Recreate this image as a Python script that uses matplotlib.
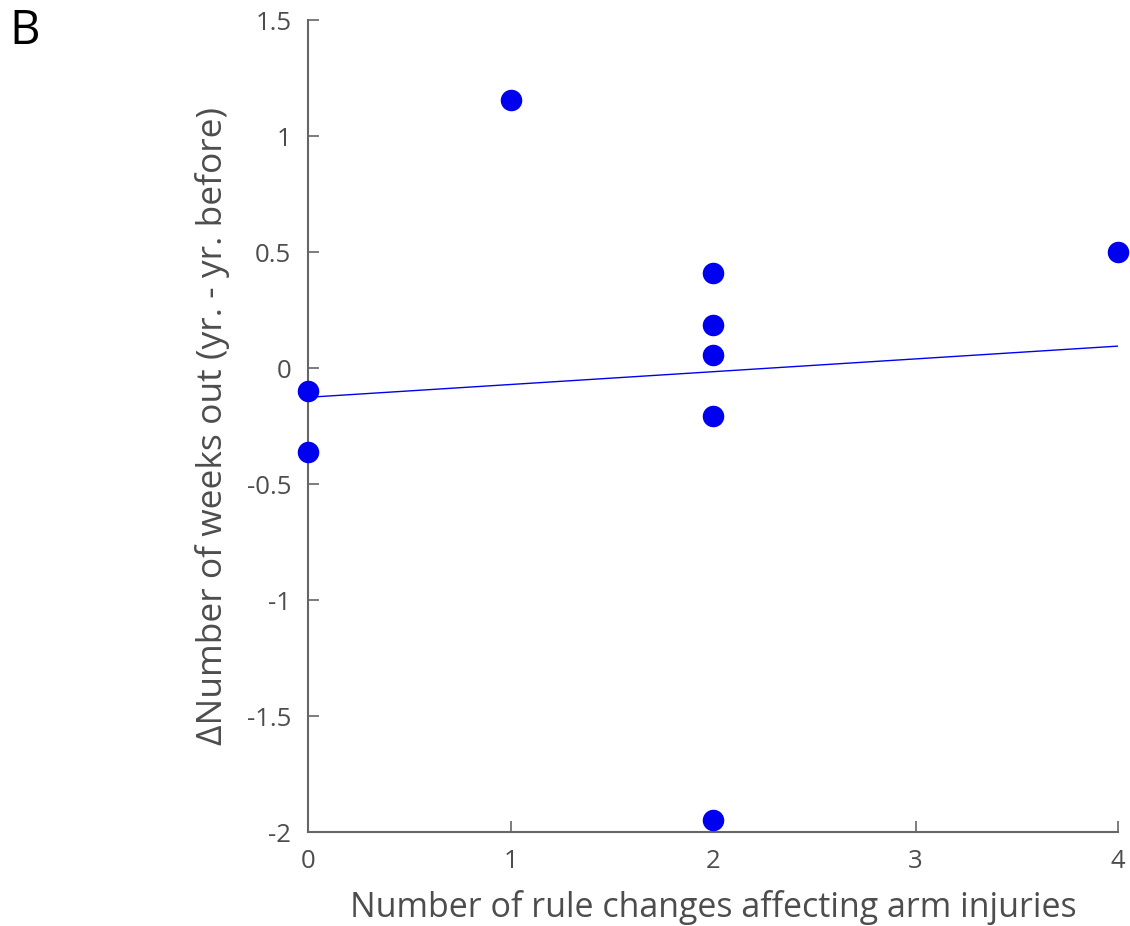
import numpy as np
import matplotlib.pyplot as plt

# data
rule_changes = [0, 0, 1, 2, 2, 2, 2, 2, 4]
delta_weeks = [-0.10, -0.36, 1.155, 0.41, 0.185, 0.056, -0.207, -1.948, 0.50]
x_ticks = [0, 1, 2, 3, 4]
y_ticks = [-2, -1.5, -1, -0.5, 0, 0.5, 1, 1.5]
y_ticklabels = ['-2', '-1.5', '-1', '-0.5', '0', '0.5', '1', '1.5']

plt.rcParams['font.family'] = ['Open Sans', 'DejaVu Sans']
grey = '#4d4d4d'

fig = plt.figure(figsize=(11.3, 9.26), dpi=100)
ax = fig.add_axes([0.2726, 0.1015, 0.7168, 0.8769])

ax.plot(rule_changes, delta_weeks, 'o', color='#0000f0', markersize=14.5,
        clip_on=False, zorder=5)

# least squares fit line
slope, intercept = np.polyfit(rule_changes, delta_weeks, 1)
xf = np.array([0, 4])
ax.plot(xf, slope * xf + intercept, '-', color='#0000f0', linewidth=1)

ax.set_xlim(0, 4)
ax.set_ylim(-2, 1.5)
ax.set_xticks(x_ticks)
ax.set_yticks(y_ticks)
ax.set_yticklabels(y_ticklabels)

for s in ['top', 'right']:
    ax.spines[s].set_visible(False)
for s in ['left', 'bottom']:
    ax.spines[s].set_color('#666666')
    ax.spines[s].set_linewidth(1.5)

ax.tick_params(direction='in', length=8, width=1.2, color='#666666',
               labelsize=18.5, labelcolor=grey, pad=12)

ax.set_xlabel('Number of rule changes affecting arm injuries', fontsize=24.5,
              color=grey, labelpad=12)
ax.set_ylabel('\u0394Number of weeks out (yr. - yr. before)', fontsize=25.5,
              color=grey, labelpad=12)

fig.text(0.008, 0.992, 'B', fontsize=34, va='top', ha='left', color='black')

plt.savefig('out.png', dpi=100)
